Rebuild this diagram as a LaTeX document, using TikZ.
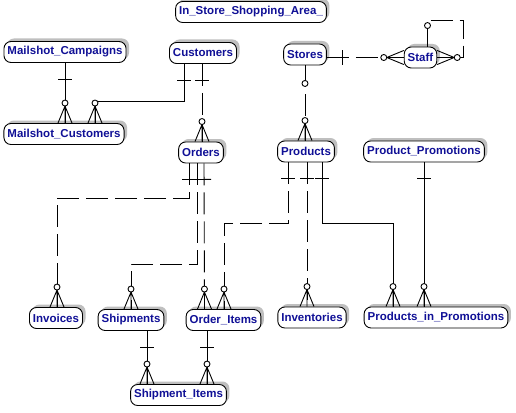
\documentclass[tikz,border=0pt]{standalone}
\usepackage{fontspec}
\setmainfont{Liberation Sans}
\usetikzlibrary{decorations.markings}
\usetikzlibrary{shadows}
\definecolor{entitytext}{RGB}{16,16,150}
\tikzset{entity/.style = {draw, line width=0.9pt, fill=white, rounded corners=7, minimum height=21,
                          inner xsep=3.5, inner ysep=2, text=entitytext,
                          font=\bfseries\fontsize{11.5}{12}\selectfont,
                          drop shadow={shadow xshift=3, shadow yshift=-3, fill=black!25, opacity=1}}}
\tikzset{rel/.style = {line width=0.9pt}}
\tikzset{nonid/.style = {dash pattern=on 22pt off 7pt}}
\tikzset{one/.style = {postaction={decorate, decoration={markings,
                         mark=at position 16pt with {\draw [solid] (0,-7pt) -- (0,7pt);}}}}}
\tikzset{zeroone/.style = {postaction={decorate, decoration={markings,
                         mark=at position #1 with {\draw [solid, fill=white] (0,0) circle (3pt);}}}},
         zeroone/.default = 18pt}
\tikzset{many/.style = {postaction={decorate, decoration={markings,
                         mark=at position 1 with {\draw [solid] (-17pt,0) -- (0,7pt) (-17pt,0) -- (0,0) (-17pt,0) -- (0,-7pt);
                                                  \draw [solid, fill=white] (-20pt,0) circle (3pt);}}}}}

\begin{document}
\begin{tikzpicture}[x=1pt, y=-1pt]
      \useasboundingbox [fill=white] (0,0) rectangle (516,412);

      \node [entity] (area) at (251, 12) {In\_Store\_Shopping\_Area\_};

      \node [entity] (campaigns) at (65, 52) {Mailshot\_Campaigns};
      \node [entity] (customers) at (203, 53) {Customers};
      \node [entity] (mcust) at (64, 134) {Mailshot\_Customers};
      \node [entity] (orders) at (201, 152.5) {Orders};

      \node [entity] (stores) at (305, 54.5) {Stores};
      \node [entity] (staff) at (420.5, 57.5) {Staff};
      \node [entity] (products) at (306, 151.5) {Products};
      \node [entity] (promotions) at (424, 151.5) {Product\_Promotions};

      \node [entity] (invoices) at (56, 318) {Invoices};
      \node [entity] (shipments) at (131, 320) {Shipments};
      \node [entity] (items) at (223.5, 320) {Order\_Items};
      \node [entity] (inventories) at (312, 317.5) {Inventories};
      \node [entity] (inpromo) at (436, 317.5) {Products\_in\_Promotions};
      \node [entity] (shipitems) at (178.5, 395) {Shipment\_Items};

      % customers
      \draw [rel, one, many] (campaigns.south) -- (campaigns.south |- mcust.north);
      \draw [rel, one, many] ([xshift=-19]customers.south) |- ([xshift=31, yshift=22]mcust.north) -- ([xshift=31]mcust.north);
      \draw [rel, nonid, one, many] ([xshift=-1]customers.south) -- ([xshift=1]orders.north);

      % stores
      \draw [rel, nonid, one, many] (stores.east |- staff.west) -- (staff.west);
      \draw [rel, nonid, zeroone=21pt, many] ([xshift=7]staff.north) -- ++(0,-26) -- ++(36,0) |- (staff.east);
      \draw [rel, nonid, zeroone, many] (stores.south) -- (stores.south |- products.north);

      % orders
      \draw [rel, nonid, one, many] ([xshift=-12]orders.south) -- ++(0,35) -| ([xshift=1]invoices.north);
      \draw [rel, nonid, one, many] ([xshift=-4]orders.south) -- ++(0,101) -| (shipments.north);
      \draw [rel, nonid, one, many] ([xshift=3]orders.south) -- ([xshift=-19]items.north);

      % products
      \draw [rel, nonid, one, many] ([xshift=-18]products.south) -- ++(0,61) -| ([xshift=0.5]items.north);
      \draw [rel, nonid, one, many] ([xshift=1]products.south) -- ([xshift=-5]inventories.north);
      \draw [rel, one, many] ([xshift=16]products.south) -- ++(0,61) -| ([xshift=-43]inpromo.north);
      \draw [rel, one, many] (promotions.south) -- (promotions.south |- inpromo.north);

      % shipment items
      \draw [rel, one, many] ([xshift=16]shipments.south) -- ([xshift=-31.5]shipitems.north);
      \draw [rel, one, many] ([xshift=-16.5]items.south) -- ([xshift=28.5]shipitems.north);
    \end{tikzpicture}
\end{document}
